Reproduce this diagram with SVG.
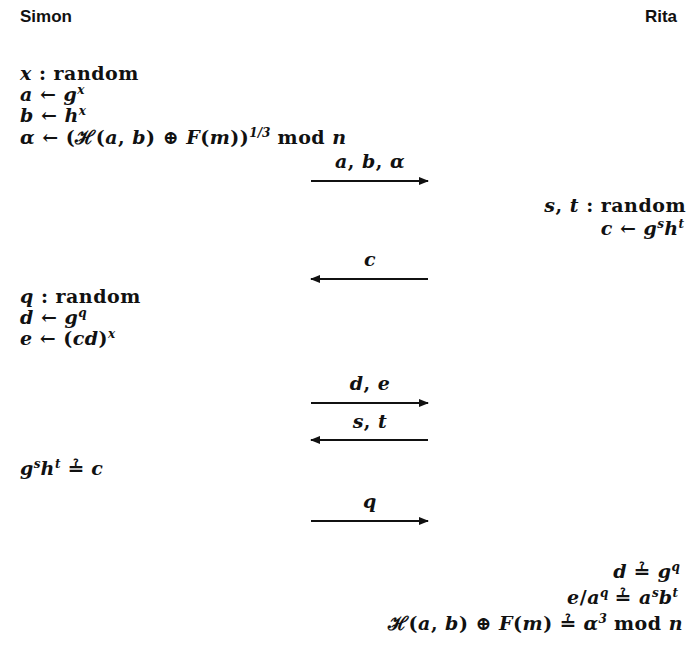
<svg xmlns="http://www.w3.org/2000/svg" width="691" height="653" viewBox="0 0 691 653">
<defs>
<style>
.name{font-family:"Liberation Sans","DejaVu Sans",sans-serif;font-size:17px;font-weight:bold;fill:#111}
.m{font-family:"DejaVu Serif","Liberation Serif",serif;font-size:19px;font-weight:bold;letter-spacing:0.5px;fill:#111}
.i{font-style:italic}
.s{font-size:12px;font-style:italic;letter-spacing:0}
.r{text-anchor:end}
.c{text-anchor:middle}
.ln{stroke:#111;stroke-width:2;fill:none}
</style>
<marker id="ah" viewBox="0 0 10 8" refX="9" refY="4" markerWidth="5" markerHeight="4" orient="auto" markerUnits="strokeWidth">
<path d="M0,0 L10,4 L0,8 Z" fill="#111"/>
</marker>
</defs>
<rect width="691" height="653" fill="#fff"/>

<g id="simon"><text class="name" x="20" y="22">Simon</text></g>
<g id="rita"><text class="name r" x="677" y="22">Rita</text></g>

<g id="simon-commit">
<text class="m" x="20" y="80"><tspan class="i">x</tspan> : random</text>
<text class="m" x="20" y="101"><tspan class="i">a</tspan> ← <tspan class="i">g</tspan><tspan class="s" dy="-7">x</tspan></text>
<text class="m" x="20" y="122"><tspan class="i">b</tspan> ← <tspan class="i">h</tspan><tspan class="s" dy="-7">x</tspan></text>
<text class="m" x="20" y="144"><tspan class="i">α</tspan> ← (ℋ(<tspan class="i">a</tspan>, <tspan class="i">b</tspan>) ⊕ <tspan class="i">F</tspan>(<tspan class="i">m</tspan>))<tspan class="s" dy="-7" font-style="normal">1/3</tspan><tspan dy="7"> mod </tspan><tspan class="i">n</tspan></text>
</g>

<g id="rita-challenge">
<text class="m r" x="686" y="212"><tspan class="i">s</tspan>, <tspan class="i">t</tspan> : random</text>
<text class="m r" x="684" y="235"><tspan class="i">c</tspan> ← <tspan class="i">g</tspan><tspan class="s" dy="-7">s</tspan><tspan class="i" dy="7">h</tspan><tspan class="s" dy="-7">t</tspan></text>
</g>

<g id="simon-response">
<text class="m" x="20" y="303"><tspan class="i">q</tspan> : random</text>
<text class="m" x="20" y="324"><tspan class="i">d</tspan> ← <tspan class="i">g</tspan><tspan class="s" dy="-7">q</tspan></text>
<text class="m" x="20" y="345"><tspan class="i">e</tspan> ← (<tspan class="i">cd</tspan>)<tspan class="s" dy="-7">x</tspan></text>
</g>

<g id="simon-check">
<text class="m" x="20" y="475"><tspan class="i">g</tspan><tspan class="s" dy="-7">s</tspan><tspan class="i" dy="7">h</tspan><tspan class="s" dy="-7">t</tspan><tspan dy="7"> ≟ </tspan><tspan class="i">c</tspan></text>
</g>

<g id="rita-verify">
<text class="m r" x="680" y="578"><tspan class="i">d</tspan> ≟ <tspan class="i">g</tspan><tspan class="s" dy="-7">q</tspan></text>
<text class="m r" x="678" y="604"><tspan class="i">e</tspan>/<tspan class="i">a</tspan><tspan class="s" dy="-7">q</tspan><tspan dy="7"> ≟ </tspan><tspan class="i">a</tspan><tspan class="s" dy="-7">s</tspan><tspan class="i" dy="7">b</tspan><tspan class="s" dy="-7">t</tspan></text>
<text class="m r" x="683" y="630">ℋ(<tspan class="i">a</tspan>, <tspan class="i">b</tspan>) ⊕ <tspan class="i">F</tspan>(<tspan class="i">m</tspan>) ≟ <tspan class="i">α</tspan><tspan class="s" dy="-7" font-style="normal">3</tspan><tspan dy="7"> mod </tspan><tspan class="i">n</tspan></text>
</g>

<g id="connectors">
<line class="ln" x1="311" y1="181" x2="428" y2="181" marker-end="url(#ah)"/>
<text class="m c" x="370" y="168"><tspan class="i">a</tspan>, <tspan class="i">b</tspan>, <tspan class="i">α</tspan></text>
<line class="ln" x1="428" y1="279" x2="311" y2="279" marker-end="url(#ah)"/>
<text class="m c" x="370" y="266"><tspan class="i">c</tspan></text>
<line class="ln" x1="311" y1="403" x2="428" y2="403" marker-end="url(#ah)"/>
<text class="m c" x="370" y="390"><tspan class="i">d</tspan>, <tspan class="i">e</tspan></text>
<line class="ln" x1="428" y1="440" x2="311" y2="440" marker-end="url(#ah)"/>
<text class="m c" x="370" y="428"><tspan class="i">s</tspan>, <tspan class="i">t</tspan></text>
<line class="ln" x1="311" y1="521" x2="428" y2="521" marker-end="url(#ah)"/>
<text class="m c" x="370" y="508"><tspan class="i">q</tspan></text>
</g>
</svg>
